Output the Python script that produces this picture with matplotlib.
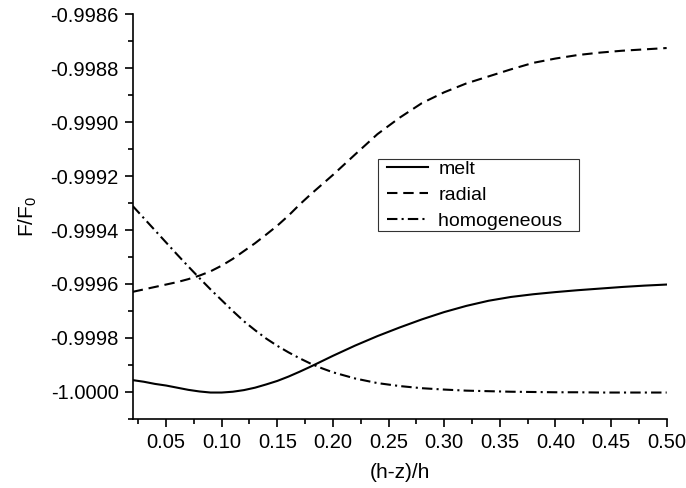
import matplotlib.pyplot as plt
from matplotlib.lines import Line2D
from matplotlib.legend_handler import HandlerLine2D
from matplotlib.ticker import MultipleLocator, FormatStrFormatter

plt.rcParams['font.family'] = ['Liberation Sans', 'DejaVu Sans']
plt.rcParams['mathtext.default'] = 'regular'

x = [0.02, 0.03, 0.04, 0.05, 0.06, 0.07, 0.08, 0.09, 0.10, 0.11, 0.12, 0.13, 0.14,
     0.15, 0.16, 0.17, 0.18, 0.19, 0.20, 0.22, 0.24, 0.26, 0.28, 0.30, 0.32,
     0.34, 0.36, 0.38, 0.40, 0.42, 0.44, 0.46, 0.48, 0.50]

melt = [-0.999956, -0.999962, -0.999970, -0.999976, -0.999984, -0.999992, -0.999998, -1.000002,
        -1.000002, -0.999999, -0.999993, -0.999984, -0.999972, -0.999959, -0.999943, -0.999925,
        -0.999906, -0.999886, -0.999866, -0.999828, -0.999793, -0.999761, -0.999731, -0.999704,
        -0.999681, -0.999662, -0.999648, -0.999638, -0.999630, -0.999623, -0.999617, -0.999611,
        -0.999606, -0.999602]

radial = [-0.999629, -0.999620, -0.999611, -0.999602, -0.999593, -0.999582, -0.999569, -0.999553,
          -0.999532, -0.999507, -0.999478, -0.999449, -0.999417, -0.999384, -0.999347, -0.999306,
          -0.999268, -0.999232, -0.999196, -0.999120, -0.999045, -0.998984, -0.998930, -0.998890,
          -0.998857, -0.998831, -0.998805, -0.998781, -0.998765, -0.998752, -0.998743, -0.998736,
          -0.998731, -0.998726]

homogeneous = [-0.999311, -0.999356, -0.999401, -0.999446, -0.999491, -0.999535, -0.999578, -0.999620,
               -0.999660, -0.999700, -0.999738, -0.999771, -0.999802, -0.999829, -0.999853, -0.999875,
               -0.999895, -0.999912, -0.999927, -0.999950, -0.999967, -0.999978, -0.999986, -0.999991,
               -0.999995, -0.999997, -0.999999, -1.000000, -1.000001, -1.000001, -1.000002, -1.000002,
               -1.000002, -1.000002]

fig = plt.figure(figsize=(6.86, 4.88), dpi=100)
ax = fig.add_axes([0.1934, 0.1414, 0.7784, 0.8299])

ax.plot(x, melt, color='black', lw=1.5, label='melt')
ax.plot(x, radial, color='black', lw=1.5, dashes=(5, 2.8), label='radial')
ax.plot(x, homogeneous, color='black', lw=1.5, dashes=(5, 2, 1, 2), label='homogeneous   ')

ax.set_xlim(0.02, 0.50)
ax.set_ylim(-1.0001, -0.9986)
ax.xaxis.set_major_locator(MultipleLocator(0.05))
ax.xaxis.set_minor_locator(MultipleLocator(0.025))
ax.yaxis.set_major_locator(MultipleLocator(0.0002))
ax.yaxis.set_minor_locator(MultipleLocator(0.0001))
ax.xaxis.set_major_formatter(FormatStrFormatter('%.2f'))
ax.yaxis.set_major_formatter(FormatStrFormatter('%.4f'))

ax.spines['top'].set_visible(False)
ax.spines['right'].set_visible(False)
ax.spines['left'].set_linewidth(1.2)
ax.spines['bottom'].set_linewidth(1.2)
ax.tick_params(which='major', direction='out', length=6, width=1.2, labelsize=14.5, pad=4)
ax.tick_params(which='minor', direction='out', length=3.5, width=1.2)

ax.set_xlabel('(h-z)/h', fontsize=15, labelpad=8)
ax.set_ylabel('F/F$_0$', fontsize=15, labelpad=8)

# xpad gives the box some room left of the handles
leg = ax.legend(loc='upper left', bbox_to_anchor=(0.46, 0.642), fontsize=14,
                frameon=True, fancybox=False, edgecolor='black', borderpad=0.05,
                handlelength=2.5, handletextpad=0.53, labelspacing=0.45, borderaxespad=0,
                handler_map={Line2D: HandlerLine2D(xpad=0.4)})
leg.get_frame().set_linewidth(0.8)

plt.savefig('out.png', dpi=100)
